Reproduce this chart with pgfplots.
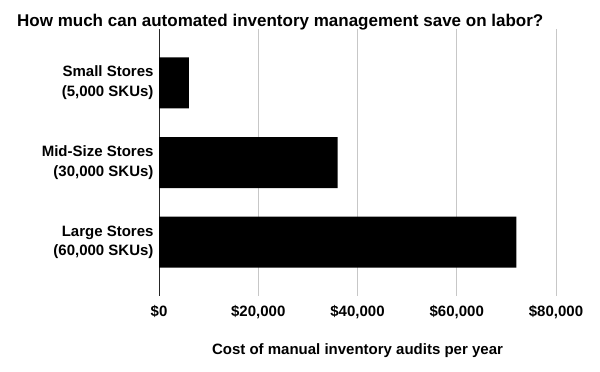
\documentclass[border=0pt]{standalone}
\usepackage{pgfplots}
\pgfplotsset{compat=1.18}
\usepackage{fontspec}
\setmainfont{Liberation Sans}
\begin{document}
\begin{tikzpicture}[x=1bp,y=1bp]
\path[use as bounding box] (0,0) rectangle (600,371);
\begin{axis}[
  at={(159bp,75bp)}, anchor=south west,
  scale only axis, width=397bp, height=267bp,
  xbar, bar width=51bp,
  xmin=0, xmax=80000,
  ymin=-0.675, ymax=2.675,
  y dir=reverse,
  axis lines*=left,
  x axis line style={draw=none},
  y axis line style={draw=black!85, line width=0.8bp},
  major tick length=0pt,
  xmajorgrids, grid style={black!22, line width=0.7bp},
  xtick={0,20000,40000,60000,80000},
  xticklabels={{\$0},{\$20,000},{\$40,000},{\$60,000},{\$80,000}},
  scaled x ticks=false,
  xticklabel style={font=\bfseries\fontsize{15bp}{18bp}\selectfont, yshift=-6bp},
  ytick={0,1,2},
  yticklabels={{Small Stores\\(5,000 SKUs)},{Mid-Size Stores\\(30,000 SKUs)},{Large Stores\\(60,000 SKUs)}},
  yticklabel style={align=right, font=\bfseries\fontsize{15bp}{19.4bp}\selectfont, xshift=-2bp},
]
\addplot[fill=black, draw=none] coordinates {(6000,0) (36000,1) (72000,2)};
\end{axis}
\node[anchor=base west, inner sep=0pt, font=\bfseries\fontsize{17bp}{20bp}\selectfont] at (17,345) {How much can automated inventory management save on labor?};
\node[anchor=center, inner sep=0pt, font=\bfseries\fontsize{15bp}{18bp}\selectfont] at (357.5,20.3) {Cost of manual inventory audits per year};
\end{tikzpicture}
\end{document}
